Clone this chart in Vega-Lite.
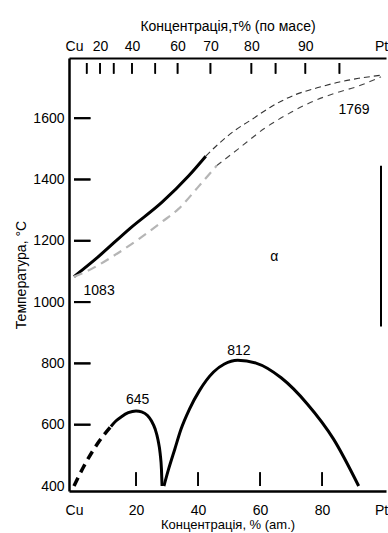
{
  "$schema": "https://vega.github.io/schema/vega-lite/v6.json",
  "width": 317,
  "height": 433,
  "autosize": {"type": "none"},
  "padding": {"left": 69, "top": 58, "right": 2, "bottom": 42},
  "background": "white",
  "config": {
    "view": {"stroke": null},
    "font": "Liberation Sans",
    "axis": {"domainColor": "black", "labelColor": "black", "titleColor": "black", "labelFont": "Liberation Sans", "titleFont": "Liberation Sans", "titleFontWeight": "normal", "grid": false, "ticks": false, "labelOverlap": false, "labelBound": false}
  },
  "datasets": {
    "curves": [
      {"curve": "liquidus", "x": 0, "t": 1083},
      {"curve": "liquidus", "x": 7.5, "t": 1145},
      {"curve": "liquidus", "x": 18, "t": 1240},
      {"curve": "liquidus", "x": 28.4, "t": 1326},
      {"curve": "liquidus", "x": 37, "t": 1412},
      {"curve": "liquidus", "x": 42.5, "t": 1476},
      {"curve": "liquidusDash", "x": 42.5, "t": 1476},
      {"curve": "liquidusDash", "x": 45, "t": 1501},
      {"curve": "liquidusDash", "x": 51.2, "t": 1555},
      {"curve": "liquidusDash", "x": 57.5, "t": 1597},
      {"curve": "liquidusDash", "x": 63.7, "t": 1638},
      {"curve": "liquidusDash", "x": 71.2, "t": 1676},
      {"curve": "liquidusDash", "x": 78.4, "t": 1699},
      {"curve": "liquidusDash", "x": 85.6, "t": 1718},
      {"curve": "liquidusDash", "x": 91.8, "t": 1730},
      {"curve": "liquidusDash", "x": 99, "t": 1740},
      {"curve": "solidusA", "x": 0, "t": 1083},
      {"curve": "solidusA", "x": 3.4, "t": 1097},
      {"curve": "solidusA", "x": 12.8, "t": 1151},
      {"curve": "solidusA", "x": 21.2, "t": 1208},
      {"curve": "solidusA", "x": 28.4, "t": 1262},
      {"curve": "solidusA", "x": 33.7, "t": 1304},
      {"curve": "solidusA", "x": 40, "t": 1375},
      {"curve": "solidusA", "x": 46, "t": 1445},
      {"curve": "solidusB", "x": 46, "t": 1445},
      {"curve": "solidusB", "x": 53, "t": 1500},
      {"curve": "solidusB", "x": 61.5, "t": 1567},
      {"curve": "solidusB", "x": 70, "t": 1619},
      {"curve": "solidusB", "x": 76.2, "t": 1651},
      {"curve": "solidusB", "x": 84.6, "t": 1683},
      {"curve": "solidusB", "x": 91.8, "t": 1705},
      {"curve": "solidusB", "x": 99, "t": 1735},
      {"curve": "dome1dash", "x": 0, "t": 400},
      {"curve": "dome1dash", "x": 2.8, "t": 457},
      {"curve": "dome1dash", "x": 7.5, "t": 537},
      {"curve": "dome1dash", "x": 11.9, "t": 594},
      {"curve": "dome1", "x": 11.9, "t": 594},
      {"curve": "dome1", "x": 13.5, "t": 612},
      {"curve": "dome1", "x": 15.3, "t": 626},
      {"curve": "dome1", "x": 17.5, "t": 639},
      {"curve": "dome1", "x": 20, "t": 645},
      {"curve": "dome1", "x": 21.8, "t": 642},
      {"curve": "dome1", "x": 23.7, "t": 630},
      {"curve": "dome1", "x": 25, "t": 612},
      {"curve": "dome1", "x": 26.2, "t": 585},
      {"curve": "dome1", "x": 27.1, "t": 550},
      {"curve": "dome1", "x": 27.8, "t": 505},
      {"curve": "dome1", "x": 28.2, "t": 455},
      {"curve": "dome1", "x": 28.4, "t": 400},
      {"curve": "dome2", "x": 29, "t": 400},
      {"curve": "dome2", "x": 30.5, "t": 455},
      {"curve": "dome2", "x": 32.5, "t": 520},
      {"curve": "dome2", "x": 34.5, "t": 585},
      {"curve": "dome2", "x": 37.2, "t": 650},
      {"curve": "dome2", "x": 40.5, "t": 712},
      {"curve": "dome2", "x": 45, "t": 772},
      {"curve": "dome2", "x": 48.5, "t": 798},
      {"curve": "dome2", "x": 52.8, "t": 810},
      {"curve": "dome2", "x": 58.7, "t": 801},
      {"curve": "dome2", "x": 66.8, "t": 753},
      {"curve": "dome2", "x": 75.3, "t": 667},
      {"curve": "dome2", "x": 83.7, "t": 553},
      {"curve": "dome2", "x": 91.8, "t": 400}
    ],
    "border": [{"x": 99, "t1": 920, "t2": 1445}],
    "vt": [
      {"v": 20, "a": 400, "b": 445},
      {"v": 40, "a": 400, "b": 445},
      {"v": 60, "a": 400, "b": 445},
      {"v": 80, "a": 400, "b": 445},
      {"v": 4.1, "a": 1745, "b": 1780},
      {"v": 8.4, "a": 1745, "b": 1780},
      {"v": 12.8, "a": 1745, "b": 1780},
      {"v": 18.7, "a": 1745, "b": 1780},
      {"v": 26.2, "a": 1745, "b": 1780},
      {"v": 33.4, "a": 1745, "b": 1780},
      {"v": 44, "a": 1745, "b": 1780},
      {"v": 57.2, "a": 1745, "b": 1780},
      {"v": 65, "a": 1745, "b": 1780},
      {"v": 74.6, "a": 1745, "b": 1780},
      {"v": 85.6, "a": 1745, "b": 1780}
    ],
    "ht": [
      {"t": 600, "a": 0, "b": 5.3},
      {"t": 800, "a": 0, "b": 5.3},
      {"t": 1000, "a": 0, "b": 5.3},
      {"t": 1200, "a": 0, "b": 5.3},
      {"t": 1400, "a": 0, "b": 5.3},
      {"t": 1600, "a": 0, "b": 5.3}
    ],
    "notes": [
      {"x": 90.3, "t": 1628, "label": "1769"},
      {"x": 8.1, "t": 1037, "label": "1083"},
      {"x": 64.6, "t": 1146, "label": "α"},
      {"x": 20.5, "t": 682, "label": "645"},
      {"x": 53.2, "t": 841, "label": "812"}
    ]
  },
  "resolve": {"axis": {"x": "independent"}},
  "layer": [
    {
      "data": {"name": "curves"},
      "transform": [{"filter": "datum.curve == 'liquidus'"}],
      "mark": {"type": "line", "color": "black", "strokeWidth": 3, "interpolate": "monotone"},
      "encoding": {
        "x": {"field": "x", "type": "quantitative", "scale": {"domain": [0, 99], "nice": false, "zero": false},
          "axis": {"orient": "bottom", "values": [0, 20, 40, 60, 80, 99], "labelExpr": "datum.value==0?'Cu':datum.value==99?'Pt':datum.label", "labelFlush": true, "domainWidth": 2.5, "labelPadding": 12, "labelFontSize": 14, "title": "Концентрація, % (am.)", "titleFontSize": 13, "titlePadding": 1}},
        "y": {"field": "t", "type": "quantitative", "scale": {"domain": [400, 1780], "nice": false, "zero": false},
          "axis": {"orient": "left", "values": [400, 600, 800, 1000, 1200, 1400, 1600], "format": "d", "domainWidth": 2.5, "labelPadding": 5, "labelFontSize": 14, "title": "Температура, °C", "titleFontSize": 14, "titlePadding": 4}}
      }
    },
    {
      "data": {"name": "curves"},
      "transform": [{"filter": "datum.curve == 'liquidusDash'"}],
      "mark": {"type": "line", "color": "#333333", "strokeWidth": 1.1, "strokeDash": [6, 4], "interpolate": "monotone"},
      "encoding": {
        "x": {"field": "x", "type": "quantitative", "axis": null},
        "y": {"field": "t", "type": "quantitative"}
      }
    },
    {
      "data": {"name": "curves"},
      "transform": [{"filter": "datum.curve == 'solidusA'"}],
      "mark": {"type": "line", "color": "#b5b5b5", "strokeWidth": 2.2, "strokeDash": [9, 6], "interpolate": "monotone"},
      "encoding": {
        "x": {"field": "x", "type": "quantitative", "axis": null},
        "y": {"field": "t", "type": "quantitative"}
      }
    },
    {
      "data": {"name": "curves"},
      "transform": [{"filter": "datum.curve == 'solidusB'"}],
      "mark": {"type": "line", "color": "#444444", "strokeWidth": 1.1, "strokeDash": [6, 5], "interpolate": "monotone"},
      "encoding": {
        "x": {"field": "x", "type": "quantitative", "axis": null},
        "y": {"field": "t", "type": "quantitative"}
      }
    },
    {
      "data": {"name": "curves"},
      "transform": [{"filter": "datum.curve == 'dome1dash'"}],
      "mark": {"type": "line", "color": "black", "strokeWidth": 3.5, "strokeDash": [9, 6], "interpolate": "monotone"},
      "encoding": {
        "x": {"field": "x", "type": "quantitative", "axis": null},
        "y": {"field": "t", "type": "quantitative"}
      }
    },
    {
      "data": {"name": "curves"},
      "transform": [{"filter": "datum.curve == 'dome1' || datum.curve == 'dome2'"}],
      "mark": {"type": "line", "color": "black", "strokeWidth": 3, "interpolate": "monotone"},
      "encoding": {
        "x": {"field": "x", "type": "quantitative", "axis": null},
        "y": {"field": "t", "type": "quantitative"},
        "detail": {"field": "curve"}
      }
    },
    {
      "data": {"name": "border"},
      "mark": {"type": "rule", "color": "black", "strokeWidth": 2},
      "encoding": {
        "x": {"field": "x", "type": "quantitative",
          "axis": {"orient": "top", "values": [0, 8.4, 18.7, 33.4, 44, 57.2, 74.6, 99],
            "labelExpr": "datum.value==0?'Cu':datum.value==8.4?'20':datum.value==18.7?'40':datum.value==33.4?'60':datum.value==44?'70':datum.value==57.2?'80':datum.value==74.6?'90':datum.value==99?'Pt':''",
            "labelFlush": true,
            "domainWidth": 2, "labelPadding": 5, "labelFontSize": 14, "title": "Концентрація,т% (по масе)", "titleFontSize": 14, "titlePadding": 6}},
        "y": {"field": "t1", "type": "quantitative"},
        "y2": {"field": "t2"}
      }
    },
    {
      "data": {"name": "notes"},
      "mark": {"type": "text", "fontSize": 14, "align": "center", "baseline": "middle", "color": "black", "font": "Liberation Sans"},
      "encoding": {
        "x": {"field": "x", "type": "quantitative", "axis": null},
        "y": {"field": "t", "type": "quantitative"},
        "text": {"field": "label"}
      }
    },
    {
      "data": {"name": "vt"},
      "mark": {"type": "bar", "color": "black", "width": 1.6},
      "encoding": {
        "x": {"field": "v", "type": "quantitative", "axis": null},
        "y": {"field": "a", "type": "quantitative"},
        "y2": {"field": "b"}
      }
    },
    {
      "data": {"name": "ht"},
      "mark": {"type": "bar", "color": "black", "height": 2},
      "encoding": {
        "x": {"field": "a", "type": "quantitative", "axis": null},
        "x2": {"field": "b"},
        "y": {"field": "t", "type": "quantitative"}
      }
    },
    {
      "data": {"name": "vt"},
      "mark": {"type": "rule", "color": "black", "strokeWidth": 1.6},
      "encoding": {
        "x": {"field": "v", "type": "quantitative", "axis": null},
        "y": {"field": "a", "type": "quantitative"},
        "y2": {"field": "b"}
      }
    },
    {
      "data": {"name": "ht"},
      "mark": {"type": "rule", "color": "black", "strokeWidth": 2},
      "encoding": {
        "x": {"field": "a", "type": "quantitative", "axis": null},
        "x2": {"field": "b"},
        "y": {"field": "t", "type": "quantitative"}
      }
    }
  ]
}
